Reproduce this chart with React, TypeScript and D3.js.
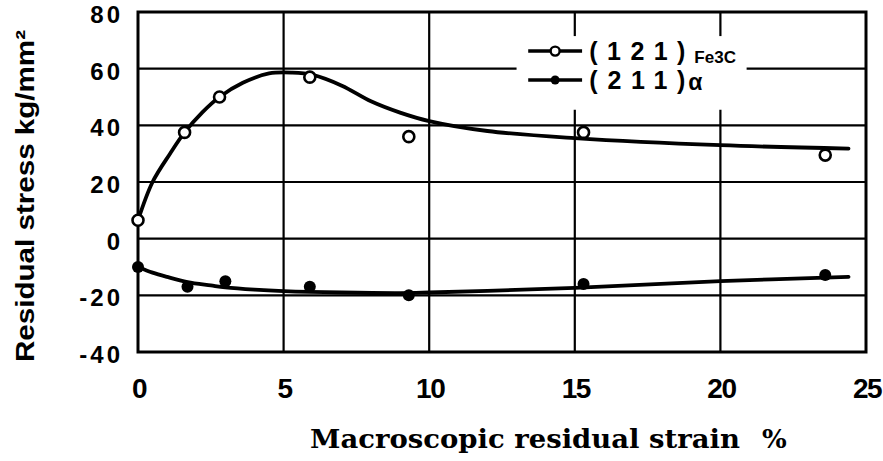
import React from "react";
import * as d3 from "d3";

// ---- data ----
const xTicks = [0, 5, 10, 15, 20, 25];
const yTicks = [80, 60, 40, 20, 0, -20, -40];

// measured points: (121) Fe3C, open circles
const fe3cX = [0, 1.6, 2.8, 5.9, 9.3, 15.3, 23.6];
const fe3cY = [6.5, 37.5, 50, 57, 36, 37.5, 29.5];

// measured points: (211) alpha, filled circles
const alphaX = [0, 1.7, 3.0, 5.9, 9.3, 15.3, 23.6];
const alphaY = [-10, -17, -15, -17, -20, -16, -12.8];

// hand-drawn fitted curves
const fe3cCurveX = [0, 0.5, 1.1, 1.6, 2.2, 2.8, 3.6, 4.5, 5.3, 6.0, 7.0, 8.0, 9.0, 10.0, 12.0, 15.0, 20.0, 24.4];
const fe3cCurveY = [6.5, 20, 30, 37.5, 44.5, 50, 55, 58.3, 58.6, 57.8, 54, 48.5, 44.5, 41.5, 38, 35.5, 33, 31.8];

const alphaCurveX = [0, 0.5, 1, 1.7, 2.5, 3, 4, 5, 7, 9, 10, 12, 15, 20, 24.4];
const alphaCurveY = [-10, -12, -13.5, -15.3, -16.5, -17.2, -18, -18.5, -19, -19.2, -19, -18.4, -17.4, -15, -13.5];

const legendLabels = ["(121)", "(211)"];
const legendSubs = ["Fe3C", "α"];

const xTitle = "Macroscopic residual strain";
const xUnit = "%";
const yTitle = "Residual stress kg/mm²";

const W = 883;
const H = 461;
const L = 138, R = 866, T = 12, B = 352;

export default function App() {
  const x = d3.scaleLinear().domain([0, 25]).range([L, R]);
  const y = d3.scaleLinear().domain([-40, 80]).range([B, T]);

  const line = d3
    .line<[number, number]>()
    .x((d) => x(d[0]))
    .y((d) => y(d[1]))
    .curve(d3.curveCatmullRom.alpha(0.5));

  const fe3cPath = line(fe3cCurveX.map((v, i) => [v, fe3cCurveY[i]] as [number, number])) || "";
  const alphaPath = line(alphaCurveX.map((v, i) => [v, alphaCurveY[i]] as [number, number])) || "";

  const innerY = yTicks.filter((t) => t !== 80 && t !== -40);
  const innerX = xTicks.filter((t) => t !== 0 && t !== 25);

  // legend box region (in data units)
  const lbx0 = x(13.0), lbx1 = x(20.9), lby0 = y(71.5), lby1 = y(45.5);
  const legLineX0 = x(13.4), legLineX1 = x(15.25);
  const legTextX = x(15.5);
  const legRows = [y(66.2), y(56)];

  const sansBold = "'Liberation Sans', Arial, Helvetica, sans-serif";

  return (
    <svg
      width={W}
      height={H}
      viewBox={`0 0 ${W} ${H}`}
      style={{ position: "absolute", left: 0, top: 0, background: "#fff" }}
    >
      <rect x={0} y={0} width={W} height={H} fill="#fff" />
      {/* grid */}
      {innerY.map((t) => (
        <line key={"gy" + t} x1={L} x2={R} y1={y(t)} y2={y(t)} stroke="#000" strokeWidth={2.2} />
      ))}
      {innerX.map((t) => (
        <line key={"gx" + t} x1={x(t)} x2={x(t)} y1={T} y2={B} stroke="#000" strokeWidth={2.2} />
      ))}
      {/* legend background */}
      <rect x={lbx0} y={lby0} width={lbx1 - lbx0} height={lby1 - lby0} fill="#fff" />
      {/* frame */}
      <rect x={L} y={T} width={R - L} height={B - T} fill="none" stroke="#000" strokeWidth={3} />

      {/* curves */}
      <path d={fe3cPath} fill="none" stroke="#000" strokeWidth={3.8} strokeLinecap="round" />
      <path d={alphaPath} fill="none" stroke="#000" strokeWidth={3.8} strokeLinecap="round" />

      {/* points */}
      {fe3cX.map((v, i) => (
        <circle key={"f" + i} cx={x(v)} cy={y(fe3cY[i])} r={5.5} fill="#fff" stroke="#000" strokeWidth={2.6} />
      ))}
      {alphaX.map((v, i) => (
        <circle key={"a" + i} cx={x(v)} cy={y(alphaY[i])} r={6} fill="#000" />
      ))}

      {/* legend */}
      {legendLabels.map((lab, i) => (
        <g key={"lg" + i}>
          <line x1={legLineX0} x2={legLineX1} y1={legRows[i]} y2={legRows[i]} stroke="#000" strokeWidth={3.5} />
          {i === 0 ? (
            <circle cx={(legLineX0 + legLineX1) / 2} cy={legRows[i]} r={4.5} fill="#fff" stroke="#000" strokeWidth={2.4} />
          ) : (
            <circle cx={(legLineX0 + legLineX1) / 2} cy={legRows[i]} r={4.5} fill="#000" />
          )}
          <text
            x={legTextX}
            y={legRows[i] + 9}
            fontFamily={sansBold}
            fontWeight="bold"
            fontSize={25}
            textLength={96}
            lengthAdjust="spacing"
          >
            {lab}
          </text>
          {i === 0 ? (
            <text x={legTextX + 105} y={legRows[i] + 12} fontFamily={sansBold} fontWeight="bold" fontSize={17}>
              {legendSubs[i]}
            </text>
          ) : (
            <text x={legTextX + 99} y={legRows[i] + 10} fontFamily={sansBold} fontWeight="bold" fontSize={23}>
              {legendSubs[i]}
            </text>
          )}
        </g>
      ))}

      {/* y tick labels */}
      {yTicks.map((t) => (
        <text
          key={"yl" + t}
          x={123}
          y={y(t) + 11}
          textAnchor="end"
          fontFamily={sansBold}
          fontWeight="bold"
          fontSize={24}
          letterSpacing={3}
        >
          {t < 0 ? "-" + Math.abs(t) : String(t)}
        </text>
      ))}

      {/* x tick labels */}
      {xTicks.map((t) => (
        <text
          key={"xl" + t}
          x={x(t) + 1}
          y={398}
          textAnchor="middle"
          fontFamily={sansBold}
          fontWeight="bold"
          fontSize={28}
          letterSpacing={-1.5}
        >
          {String(t)}
        </text>
      ))}

      {/* axis titles */}
      <text
        x={310}
        y={448}
        fontFamily="'DejaVu Serif', 'Liberation Serif', serif"
        fontWeight="bold"
        fontSize={26}
        textLength={430}
        lengthAdjust="spacingAndGlyphs"
      >
        {xTitle}
      </text>
      <text
        x={762}
        y={448}
        fontFamily="'DejaVu Serif', 'Liberation Serif', serif"
        fontWeight="bold"
        fontSize={26}
      >
        {xUnit}
      </text>
      <text
        transform={`translate(34, ${196}) rotate(-90)`}
        textAnchor="middle"
        fontFamily={sansBold}
        fontWeight="bold"
        fontSize={26}
        textLength={332}
        lengthAdjust="spacingAndGlyphs"
      >
        {yTitle}
      </text>
    </svg>
  );
}
